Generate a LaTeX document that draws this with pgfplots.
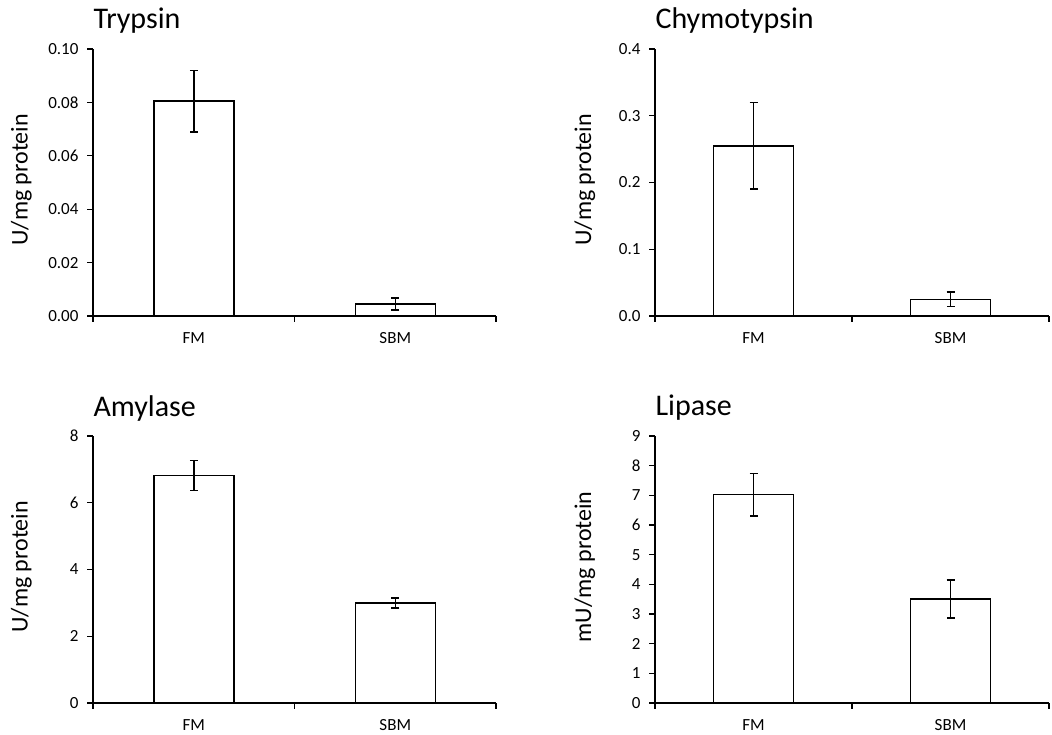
\documentclass[border=0pt]{standalone}
\usepackage{fontspec}
\setmainfont{Carlito}
\usepackage{pgfplots}
\pgfplotsset{compat=1.18}

\pgfplotsset{
  enzyme/.style={
    scale only axis, width=403pt, height=267pt,
    anchor=south west,
    xmin=0, xmax=2, ymin=0,
    axis x line=bottom, axis y line=left,
    axis line style={-, line width=1.6pt, black},
    xtick={0.5,1.5}, xticklabels={FM,SBM},
    minor xtick={0,1,2},
    major x tick style={draw=none},
    minor x tick style={line width=1.3pt, black},
    ytick style={line width=1.3pt, black},
    tick align=outside,
    major tick length=6pt, minor tick length=6pt,
    tick label style={font=\fontsize{17}{20}\selectfont},
    /pgf/number format/assume math mode=true,
    yticklabel style={xshift=-5pt},
    xticklabel style={yshift=-7pt},
    ylabel style={font=\fontsize{24}{28}\selectfont,
      at={(axis description cs:-0.178,0.51)}, anchor=center},
    title style={font=\fontsize{30}{36}\selectfont,
      at={(rel axis cs:0,1)}, anchor=base west, xshift=-3pt, yshift=14pt},
    clip=false,
  },
  bars/.style={ybar, bar width=80pt, draw=black, fill=white, line width=1.5pt,
    error bars/.cd, y dir=both, y explicit,
    error bar style={line width=1.5pt, black},
    error mark options={rotate=90, mark size=4pt, line width=1.5pt, black}},
}

\begin{document}
\begin{tikzpicture}
\path[use as bounding box] (0,0) rectangle (1052pt,735pt);

% Trypsin
\begin{axis}[enzyme, at={(93pt,419pt)}, ymax=0.1,
    ytick={0,0.02,0.04,0.06,0.08,0.10},
    yticklabel style={/pgf/number format/.cd, fixed, fixed zerofill, precision=2},
    ylabel={U/mg protein}, title={Trypsin}]
\addplot[bars] table[x=x, y=y, y error=e] {
x y e
0.5 0.0805 0.0115
1.5 0.0045 0.0022
};
\end{axis}

% Chymotrypsin
\begin{axis}[enzyme, at={(655pt,419pt)}, width=394pt, ymax=0.4,
    ytick={0,0.1,0.2,0.3,0.4},
    yticklabel style={/pgf/number format/.cd, fixed, fixed zerofill, precision=1},
    ylabel={U/mg protein}, title={Chymotypsin}]
\addplot[bars] table[x=x, y=y, y error=e] {
x y e
0.5 0.255 0.065
1.5 0.025 0.011
};
\end{axis}

% Amylase
\begin{axis}[enzyme, at={(93pt,32pt)}, ymax=8,
    ytick={0,2,4,6,8},
    ylabel={U/mg protein}, title={Amylase}]
\addplot[bars] table[x=x, y=y, y error=e] {
x y e
0.5 6.82 0.45
1.5 3.00 0.15
};
\end{axis}

% Lipase
\begin{axis}[enzyme, at={(655pt,32pt)}, width=394pt, ymax=9,
    ytick={0,1,2,3,4,5,6,7,8,9},
    ylabel={mU/mg protein}, title={Lipase}]
\addplot[bars] table[x=x, y=y, y error=e] {
x y e
0.5 7.02 0.72
1.5 3.50 0.64
};
\end{axis}
\end{tikzpicture}
\end{document}
